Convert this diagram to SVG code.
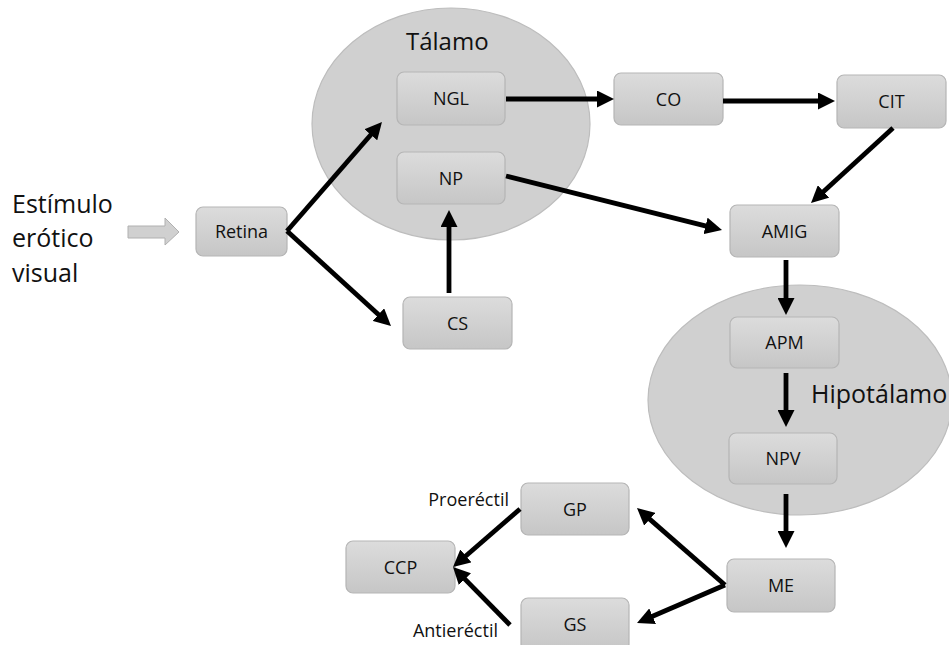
<svg xmlns="http://www.w3.org/2000/svg" width="949" height="645" viewBox="0 0 949 645">
<style>
.region{fill:#d0d0d0;stroke:#bdbdbd;stroke-width:1.2}
.box{fill:url(#boxg);stroke:#b5b5b5;stroke-width:1.2}
.lbl{font-family:"Open Sans","DejaVu Sans",sans-serif;font-size:18px;fill:#111;text-anchor:middle}
.big{font-family:"Open Sans","DejaVu Sans",sans-serif;font-size:25px;fill:#111}
.small{font-family:"Open Sans","DejaVu Sans",sans-serif;font-size:18px;fill:#111;text-anchor:end}
.conn line{stroke:#000;stroke-width:4.8;marker-end:url(#ah)}
</style>
<defs>
<linearGradient id="boxg" x1="0" y1="0" x2="0" y2="1">
<stop offset="0" stop-color="#dcdcdc"/>
<stop offset="1" stop-color="#c6c6c6"/>
</linearGradient>
<marker id="ah" markerUnits="userSpaceOnUse" markerWidth="18" markerHeight="17" refX="7" refY="8.5" orient="auto">
<path d="M0,0 L17,8.5 L0,17 z" fill="#000"/>
</marker>
</defs>
<rect width="949" height="645" fill="#fff"/>
<g id="talamo">
<ellipse class="region" cx="451" cy="124" rx="139" ry="116"/>
<text class="big" x="406" y="50" style="font-size:24px">Tálamo</text>
</g>
<g id="hipotalamo">
<ellipse class="region" cx="800" cy="400" rx="152" ry="115"/>
<text class="big" x="811" y="403">Hipotálamo</text>
</g>
<g id="estimulo">
<text class="big" x="12" y="213">Estímulo</text>
<text class="big" x="12" y="247">erótico</text>
<text class="big" x="12" y="282">visual</text>
<polygon points="128,226 165,226 165,218 179,232 165,245 165,238 128,238" fill="#d0d0d0" stroke="#b0b0b0" stroke-width="1"/>
</g>
<g id="retina"><rect class="box" x="196" y="207" width="91" height="49" rx="7"/><text class="lbl" x="241.5" y="238">Retina</text></g>
<g id="ngl"><rect class="box" x="397" y="72" width="108" height="53" rx="7"/><text class="lbl" x="451" y="105">NGL</text></g>
<g id="np"><rect class="box" x="397" y="152" width="108" height="52" rx="7"/><text class="lbl" x="451" y="184.5">NP</text></g>
<g id="cs"><rect class="box" x="403" y="297" width="109" height="52" rx="7"/><text class="lbl" x="457.5" y="329.5">CS</text></g>
<g id="co"><rect class="box" x="614" y="73" width="109" height="52" rx="7"/><text class="lbl" x="668.5" y="105.5">CO</text></g>
<g id="cit"><rect class="box" x="837" y="75" width="109" height="53" rx="7"/><text class="lbl" x="891.5" y="108">CIT</text></g>
<g id="amig"><rect class="box" x="730" y="205" width="109" height="52" rx="7"/><text class="lbl" x="784.5" y="237.5">AMIG</text></g>
<g id="apm"><rect class="box" x="730" y="317" width="109" height="51" rx="7"/><text class="lbl" x="784.5" y="349">APM</text></g>
<g id="npv"><rect class="box" x="729" y="433" width="108" height="51" rx="7"/><text class="lbl" x="783" y="465">NPV</text></g>
<g id="me"><rect class="box" x="727" y="559" width="108" height="53" rx="7"/><text class="lbl" x="781" y="592">ME</text></g>
<g id="gp"><rect class="box" x="521" y="483" width="108" height="52" rx="7"/><text class="lbl" x="575" y="515.5">GP</text></g>
<g id="gs"><rect class="box" x="521" y="598" width="108" height="53" rx="7"/><text class="lbl" x="575" y="631">GS</text></g>
<g id="ccp"><rect class="box" x="346" y="541" width="109" height="52" rx="7"/><text class="lbl" x="400.5" y="573.5">CCP</text></g>
<g id="labels">
<text class="small" x="509" y="506">Proeréctil</text>
<text class="small" x="498" y="637">Antieréctil</text>
</g>
<g id="connectors" class="conn">
<line x1="287" y1="231" x2="375.4" y2="129.5"/>
<line x1="287" y1="231" x2="383.6" y2="319.3"/>
<line x1="449" y1="293" x2="449" y2="220"/>
<line x1="506" y1="99" x2="604" y2="99"/>
<line x1="723" y1="101" x2="825" y2="101"/>
<line x1="893" y1="128" x2="818.4" y2="196.2"/>
<line x1="506" y1="176" x2="712.3" y2="227.6"/>
<line x1="786" y1="260" x2="786" y2="305"/>
<line x1="786" y1="373" x2="786" y2="417"/>
<line x1="786" y1="494" x2="786" y2="538"/>
<line x1="725" y1="585" x2="644.5" y2="514.6"/>
<line x1="725" y1="585" x2="646.2" y2="619"/>
<line x1="520" y1="509" x2="460.6" y2="560.5"/>
<line x1="510" y1="625" x2="460" y2="574.1"/>
</g>
</svg>
